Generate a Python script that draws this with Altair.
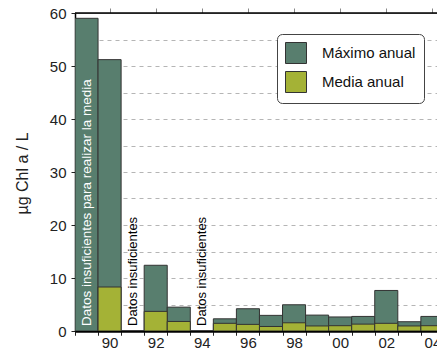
import altair as alt
import pandas as pd

years = [1989, 1990, 1991, 1992, 1993, 1994, 1995, 1996, 1997, 1998, 1999, 2000, 2001, 2002, 2003, 2004]
maximo = [59.0, 51.2, None, 12.4, 4.5, None, 2.3, 4.2, 2.95, 4.95, 3.0, 2.65, 2.75, 7.65, 1.75, 2.75]
media = [None, 8.3, None, 3.7, 1.8, None, 1.45, 1.25, 0.85, 1.55, 0.95, 1.0, 1.3, 1.45, 0.95, 1.0]

series_names = ["Máximo anual", "Media anual"]
series_colors = ["#587e6e", "#a4b236"]

note_years = [1989, 1991, 1994]
note_texts = ["Datos insuficientes para realizar la media", "Datos insuficientes", "Datos insuficientes"]
note_colors = ["white", "black", "black"]
note_sizes = [13.5, 13, 13]

y_ticks = [0, 5, 10, 15, 20, 25, 30, 35, 40, 45, 50, 55, 60]
x_boundaries = [y - 0.5 for y in years] + [2004.5]
x_labels = [1990, 1992, 1994, 1996, 1998, 2000, 2002, 2004]

rows = []
for yr, v in zip(years, maximo):
    if v is not None:
        rows.append({"year": yr, "serie": series_names[0], "value": v})
for yr, v in zip(years, media):
    if v is not None:
        rows.append({"year": yr, "serie": series_names[1], "value": v})
df = pd.DataFrame(rows)
notes = pd.DataFrame({"year": note_years, "text": note_texts, "color": note_colors, "size": note_sizes})

xdom = [1988.5, 2004.2]
xscale = alt.Scale(domain=xdom, nice=False, zero=False)
yscale = alt.Scale(domain=[0, 60], nice=False)
cscale = alt.Scale(domain=series_names, range=series_colors)

# axis with boundary ticks only
xaxis_ticks = alt.Axis(
    values=x_boundaries, labels=False, orient="bottom",
    domainColor="black", domainWidth=2, tickColor="#222", tickSize=4, tickWidth=1,
    grid=False, title=None,
)
# axis with year labels only
xaxis_labels = alt.Axis(
    values=x_labels, ticks=False, domain=False, orient="bottom",
    labelExpr="slice(toString(datum.value), 2)",
    labelOverlap=False, labelFlush=False,
    labelFontSize=15, labelColor="#222", labelPadding=4, grid=False, title=None,
)
yaxis = alt.Axis(
    values=y_ticks,
    labelExpr="datum.value % 10 == 0 ? datum.label : ''",
    tickOpacity={"condition": {"test": "datum.value % 10 != 0", "value": 0}, "value": 1},
    gridOpacity={"condition": {"test": "datum.value == 0 || datum.value == 60", "value": 0}, "value": 1},
    grid=True, gridColor="#b5b5b5", gridDash=[4, 4], gridWidth=1,
    labelOverlap=False, labelFlush=False,
    domainColor="black", domainWidth=1.5, tickColor="#222", tickSize=4,
    labelFontSize=15, labelColor="#222", labelPadding=5,
    title="µg Chl a / L", titleFontSize=16, titleFontWeight="normal", titleColor="#222",
    titleX=-53, titleY=160, titleAngle=270, titleAlign="center", titleBaseline="middle",
)
legend = alt.Legend(
    orient="none", legendX=202, legendY=21, title=None,
    fillColor="white", strokeColor="#444", cornerRadius=5, padding=8,
    symbolType="square", symbolSize=441, symbolStrokeColor="#333", symbolStrokeWidth=1,
    labelFontSize=15, labelOffset=15, rowPadding=3, labelColor="#111",
)

base = alt.Chart(df).transform_calculate(x0="datum.year - 0.5", x1="datum.year + 0.5")

max_layer = base.transform_filter(alt.datum.serie == series_names[0]).mark_bar(
    stroke="#333", strokeWidth=1, clip=True
).encode(
    x=alt.X("x0:Q", scale=xscale, axis=xaxis_ticks),
    x2="x1:Q",
    y=alt.Y("value:Q", scale=yscale, axis=yaxis),
    y2=alt.datum(0),
    color=alt.Color("serie:N", scale=cscale, legend=legend),
)
mean_layer = base.transform_filter(alt.datum.serie == series_names[1]).mark_bar(
    stroke="#333", strokeWidth=1, clip=True
).encode(
    x=alt.X("x0:Q", scale=xscale, axis=xaxis_ticks),
    x2="x1:Q",
    y=alt.Y("value:Q", scale=yscale, axis=yaxis),
    y2=alt.datum(0),
    color=alt.Color("serie:N", scale=cscale, legend=legend),
)

text_layer = alt.Chart(notes).mark_text(
    angle=270, align="left", baseline="middle", dx=5
).encode(
    x=alt.X("year:Q", scale=xscale, axis=xaxis_labels),
    y=alt.Y("y:Q", scale=yscale, axis=yaxis),
    text="text:N",
    size=alt.Size("size:Q", scale=None),
    color=alt.Color("color:N", scale=None),
).transform_calculate(y="0")

top_rule = alt.Chart(pd.DataFrame({"y": [60]})).mark_rule(color="black", strokeWidth=1.5).encode(
    y=alt.Y("y:Q", scale=yscale, axis=yaxis),
    x=alt.datum(xdom[0]),
    x2=alt.datum(xdom[1]),
)

chart = alt.layer(max_layer, mean_layer, top_rule, text_layer).resolve_axis(
    x="independent"
).properties(
    width=362, height=318,
    autosize=alt.AutoSizeParams(type="none"),
    padding={"left": 67, "top": 5, "right": 0, "bottom": 18},
).configure(font="Liberation Sans").configure_view(stroke=None)

chart.save("out.html", embed_options={"renderer": "svg", "actions": False})
